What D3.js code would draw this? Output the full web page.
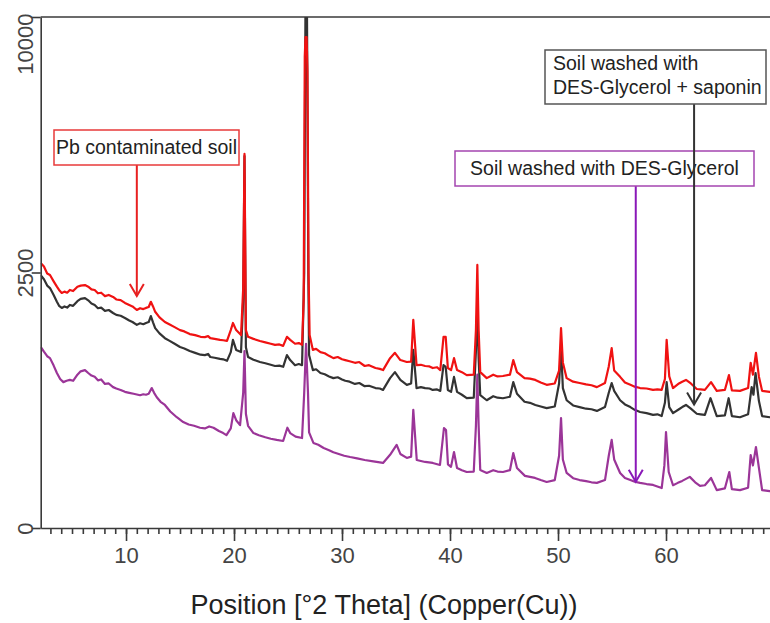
<!DOCTYPE html>
<html lang="en">
	<head>
		<meta charset="utf-8">
		<title>XRD patterns</title>
		<script type="text/javascript" src="https://d3js.org/d3.v7.min.js"></script>
		<style type="text/css">
			body { margin: 0; background: #fff; }
			text { font-family: Arial, "Liberation Sans", sans-serif; }
		</style>
	</head>
	<body>
		<script type="text/javascript">
			//Width and height
			var w = 770;
			var h = 623;

			//Tick labels
			var xTickValues = [10, 20, 30, 40, 50, 60];
			var yTickValues = [0, 2500, 10000];

			//Series: [position 2theta, counts]
			var contaminatedSoil = [
				[2.1,2690],[2.4,2620],[2.7,2480],[2.96,2450],[3.3,2330],[3.6,2230],[3.8,2170],[4.05,2115],[4.3,2140],[4.55,2120],
				[4.8,2170],[5.1,2150],[5.5,2230],[5.8,2250],[6.2,2260],[6.5,2230],[6.8,2180],[7.1,2170],[7.4,2110],[7.7,2120],
				[8.05,2060],[8.4,2080],[8.8,2045],[9.1,2000],[9.5,1990],[9.9,1940],[10.3,1905],[10.6,1880],[11.0,1820],[11.3,1850],
				[11.6,1835],[11.85,1855],[12.1,1870],[12.3,1960],[12.5,1880],[12.7,1790],[13.1,1700],[13.6,1625],[14.0,1590],[14.5,1545],
				[15.0,1500],[15.4,1480],[15.9,1440],[16.4,1425],[16.9,1400],[17.3,1395],[17.6,1410],[17.8,1380],[18.2,1370],[18.7,1355],
				[19.0,1350],[19.35,1340],[19.7,1500],[19.9,1610],[20.2,1500],[20.65,1425],[20.85,2200],[20.97,5360],[21.1,1500],[21.3,1400],
				[21.8,1370],[22.4,1340],[22.9,1320],[23.4,1300],[23.8,1285],[24.2,1290],[24.55,1270],[24.9,1400],[25.2,1355],[25.65,1300],
				[26.0,1310],[26.3,1285],[26.45,2000],[26.55,8500],[26.62,9230],[26.72,9230],[26.8,8000],[26.9,2500],[27.0,1425],[27.3,1215],
				[27.6,1230],[28.0,1185],[28.4,1170],[28.8,1135],[29.2,1105],[29.6,1120],[30.0,1090],[30.3,1080],[30.7,1065],[31.2,1045],
				[31.6,1055],[32.1,1005],[32.5,1015],[33.1,980],[33.5,970],[33.8,955],[34.45,1105],[34.9,1175],[35.4,1080],[36.0,1055],
				[36.4,1060],[36.6,1660],[36.9,1015],[37.3,1020],[37.7,1005],[38.1,1000],[38.4,980],[38.8,990],[39.1,955],[39.4,1400],
				[39.6,1400],[39.8,980],[40.1,955],[40.37,1105],[40.65,955],[41.1,930],[41.55,895],[42.2,900],[42.4,1500],[42.53,2650],
				[42.65,1500],[42.8,930],[43.4,860],[44.0,900],[44.4,880],[44.9,885],[45.55,900],[45.86,1080],[46.2,930],[46.9,860],
				[47.4,855],[47.9,840],[48.4,810],[48.95,785],[49.7,800],[50.1,950],[50.28,1530],[50.45,1050],[50.8,860],[51.4,820],
				[52.0,805],[52.6,790],[53.1,780],[53.6,760],[54.35,805],[54.7,1000],[54.97,1240],[55.2,950],[55.75,875],[56.2,810],
				[56.7,785],[57.1,765],[57.6,750],[58.2,745],[58.8,730],[59.2,735],[59.6,730],[59.9,850],[60.06,1355],[60.3,880],
				[60.65,750],[61.2,800],[61.5,820],[61.85,840],[62.3,800],[62.85,740],[63.2,735],[63.6,730],[64.17,815],[64.7,720],
				[65.45,730],[65.83,895],[66.1,725],[66.85,720],[67.6,750],[67.84,1045],[68.05,900],[68.33,1175],[68.6,880],[68.9,720],
				[69.6,710],[70,705]
			];
			var washedSaponin = [
				[2.1,2450],[2.4,2370],[2.7,2250],[2.96,2205],[3.3,2080],[3.6,1960],[3.8,1890],[4.05,1855],[4.3,1880],[4.55,1860],
				[4.8,1905],[5.1,1890],[5.5,1970],[5.8,2010],[6.2,2025],[6.5,1985],[6.8,1930],[7.1,1905],[7.4,1850],[7.7,1860],
				[8.05,1805],[8.4,1820],[8.8,1770],[9.1,1740],[9.5,1725],[9.9,1690],[10.3,1650],[10.6,1625],[11.0,1580],[11.3,1605],
				[11.6,1590],[11.85,1610],[12.1,1625],[12.3,1720],[12.5,1620],[12.7,1530],[13.1,1450],[13.6,1380],[14.0,1345],[14.5,1300],
				[15.0,1255],[15.4,1235],[15.9,1200],[16.4,1175],[16.9,1150],[17.3,1145],[17.6,1160],[17.8,1120],[18.2,1110],[18.7,1095],
				[19.0,1090],[19.35,1070],[19.7,1185],[19.9,1355],[20.2,1215],[20.65,1185],[20.85,2000],[20.97,5300],[21.1,1250],[21.3,1120],
				[21.8,1085],[22.4,1055],[22.9,1040],[23.4,1020],[23.8,1005],[24.2,1010],[24.55,995],[24.9,1145],[25.2,1080],[25.65,1015],
				[26.0,1030],[26.3,1015],[26.5,2500],[26.62,10800],[26.75,10800],[26.88,2500],[26.95,1145],[27.3,955],[27.6,965],[28.0,920],
				[28.4,905],[28.8,880],[29.2,860],[29.6,870],[30.0,845],[30.3,830],[30.7,820],[31.2,795],[31.6,805],[32.1,770],
				[32.5,775],[33.1,750],[33.5,745],[33.8,730],[34.45,860],[34.9,930],[35.4,840],[36.0,785],[36.4,800],[36.6,1215],
				[36.9,750],[37.3,760],[37.7,750],[38.1,745],[38.4,730],[38.8,735],[39.1,720],[39.4,1015],[39.6,995],[39.8,730],
				[40.1,710],[40.37,875],[40.65,710],[41.1,680],[41.55,645],[42.2,650],[42.4,1200],[42.53,1900],[42.65,1100],[42.8,675],
				[43.4,625],[44.0,665],[44.4,650],[44.9,645],[45.55,660],[45.86,815],[46.2,690],[46.9,610],[47.4,600],[47.9,580],
				[48.4,565],[48.95,550],[49.7,565],[50.1,800],[50.28,1255],[50.45,750],[50.8,625],[51.4,575],[52.0,560],[52.6,545],
				[53.1,540],[53.6,525],[54.35,560],[54.7,700],[54.97,805],[55.2,720],[55.75,625],[56.2,585],[56.7,560],[57.1,535],
				[57.6,515],[58.2,505],[58.8,490],[59.2,495],[59.6,480],[59.9,600],[60.06,815],[60.3,560],[60.65,505],[61.2,540],
				[61.5,560],[61.85,580],[62.3,545],[62.85,500],[63.2,495],[63.6,490],[64.12,645],[64.7,480],[65.45,485],[65.8,645],
				[66.1,480],[66.85,470],[67.6,495],[67.93,760],[68.1,680],[68.29,920],[68.6,620],[68.9,480],[69.6,470],[70,468]
			];
			var washedGlycerol = [
				[2.1,1255],[2.4,1190],[2.7,1130],[2.96,1105],[3.3,1010],[3.6,920],[3.9,850],[4.2,815],[4.5,830],[4.8,840],
				[5.1,830],[5.5,900],[5.8,940],[6.2,955],[6.5,920],[6.8,890],[7.1,875],[7.4,835],[7.7,845],[8.05,795],
				[8.4,800],[8.8,760],[9.1,745],[9.5,730],[9.9,710],[10.3,700],[10.7,690],[11.3,675],[11.6,685],[11.85,680],
				[12.1,690],[12.38,750],[12.6,700],[12.85,655],[13.2,610],[13.6,580],[14.1,520],[14.7,470],[15.3,430],[15.8,410],
				[16.3,400],[16.85,385],[17.3,380],[17.7,395],[18.1,385],[18.6,360],[19.0,345],[19.3,330],[19.7,380],[19.94,505],
				[20.2,445],[20.56,405],[20.85,700],[20.97,1200],[21.1,500],[21.3,400],[21.8,345],[22.3,330],[22.9,315],[23.4,305],
				[23.95,297],[24.55,290],[24.94,385],[25.2,345],[25.7,320],[26.3,310],[26.5,700],[26.67,1300],[26.85,700],[26.95,350],
				[27.35,277],[27.8,265],[28.3,245],[28.8,232],[29.2,220],[29.7,210],[30.2,200],[30.75,193],[31.4,186],[32.1,177],
				[32.9,170],[33.8,162],[34.45,205],[35.06,265],[35.4,210],[36.0,188],[36.4,195],[36.6,535],[36.92,177],[37.3,172],
				[37.7,167],[38.4,162],[39.07,152],[39.44,383],[39.63,368],[39.81,155],[40.09,143],[40.37,221],[40.65,138],[41.1,128],
				[41.55,120],[42.2,122],[42.4,400],[42.53,900],[42.65,400],[42.8,129],[43.4,116],[44.0,128],[44.4,122],[44.9,120],
				[45.55,128],[45.86,215],[46.2,138],[46.94,104],[47.4,100],[47.87,96],[48.4,88],[48.95,81],[49.7,88],[50.1,200],
				[50.28,463],[50.45,180],[50.8,116],[51.4,95],[52.0,88],[52.6,84],[53.1,80],[53.6,78],[54.35,88],[54.7,200],
				[54.97,297],[55.2,180],[55.75,116],[56.2,96],[56.7,88],[57.1,82],[57.6,78],[58.2,74],[58.8,71],[59.2,66],
				[59.6,61],[59.85,150],[60.0,353],[60.25,120],[60.65,70],[61.1,78],[61.5,85],[62.2,100],[62.7,80],[63.15,68],
				[63.6,70],[64.17,96],[64.7,55],[65.45,60],[65.86,120],[66.1,58],[66.85,55],[67.6,62],[67.84,204],[68.05,150],
				[68.33,251],[68.6,140],[68.9,55],[69.6,52],[70,50]
			];

			//Annotations: label lines, arrow tip [2theta, counts]
			var annotations = [
				{ lines: ["Pb contaminated soil"], tip: [11.0, 2060], box: [54, 130, 185, 35], color: "#e82020", border: "#e83a3a", align: "middle" },
				{ lines: ["Soil washed with DES-Glycerol"], tip: [57.2, 82], box: [455, 151, 299, 35], color: "#8a18b8", border: "#a445b0", align: "middle" },
				{ lines: ["Soil washed with", "DES-Glycerol + saponin"], tip: [62.6, 585], box: [545, 50, 221, 54], color: "#333333", border: "#555555", align: "start" }
			];

			//create scale functions
			var xScale = d3.scaleLinear()
							.domain([2.1, 70])
							.range([40.7, 774]);
			var yScale = d3.scaleSqrt()
							.domain([0, 10000])
							.range([528, 17]);

			//Create SVG element
			var svg = d3.select("body")
						.append("svg")
						.attr("width", w)
						.attr("height", h);

			svg.append("clipPath")
				.attr("id", "chart-area")
				.append("rect")
				.attr("x", 40.7)
				.attr("y", 17)
				.attr("width", 774 - 40.7)
				.attr("height", 528 - 17);

			var line = d3.line()
						.x(function(d) { return xScale(d[0]); })
						.y(function(d) { return yScale(d[1]); });

			//Draw patterns
			var series = [
				{ data: washedGlycerol, color: "#9b3598" },
				{ data: washedSaponin, color: "#333333" },
				{ data: contaminatedSoil, color: "#f01212" }
			];
			svg.append("g")
				.attr("clip-path", "url(#chart-area)")
				.selectAll("path")
				.data(series)
				.enter()
				.append("path")
				.attr("d", function(d) { return line(d.data); })
				.attr("fill", "none")
				.attr("stroke", function(d) { return d.color; })
				.attr("stroke-width", 2.2)
				.attr("stroke-linejoin", "round");

			//Top frame line
			svg.append("line")
				.attr("x1", 40.7)
				.attr("x2", w)
				.attr("y1", 17)
				.attr("y2", 17)
				.attr("stroke", "#3a3a3a")
				.attr("stroke-width", 1.6);

			//Minor x ticks
			svg.append("g")
				.attr("transform", "translate(0,528)")
				.call(d3.axisBottom(xScale).tickValues(d3.range(3, 70)).tickSize(6).tickSizeOuter(0).tickFormat(""))
				.call(function(g) {
					g.selectAll("line, path").attr("stroke", "#3a3a3a").attr("stroke-width", 1.6);
				});

			//Major x ticks
			svg.append("g")
				.attr("transform", "translate(0,528)")
				.call(d3.axisBottom(xScale).tickValues(xTickValues).tickSize(13).tickSizeOuter(0).tickPadding(6))
				.call(function(g) {
					g.select(".domain").remove();
					g.selectAll("line").attr("stroke", "#3a3a3a").attr("stroke-width", 1.6);
					g.selectAll("text").attr("font-size", "22px").attr("fill", "#444");
				});

			//Y axis
			svg.append("g")
				.attr("transform", "translate(40.7,0)")
				.call(d3.axisLeft(yScale).tickValues(yTickValues).tickSize(9).tickSizeOuter(0).tickFormat(d3.format("d")))
				.call(function(g) {
					g.selectAll("line, path").attr("stroke", "#3a3a3a").attr("stroke-width", 1.6);
					g.selectAll("text")
						.attr("transform", "rotate(-90)")
						.attr("x", function(d) { return d === 10000 ? 4 : 0; })
						.attr("y", -8)
						.attr("dy", 0)
						.attr("text-anchor", function(d) { return d === 10000 ? "end" : "middle"; })
						.attr("font-size", "22px")
						.attr("fill", "#444");
				});

			//X axis title
			svg.append("text")
				.attr("x", 384)
				.attr("y", 614)
				.attr("text-anchor", "middle")
				.attr("font-size", "27px")
				.attr("fill", "#222")
				.text("Position [°2 Theta] (Copper(Cu))");

			//Annotations
			var ann = svg.append("g");
			annotations.forEach(function(a) {
				var b = a.box;
				var tx = xScale(a.tip[0]);
				var ty = yScale(a.tip[1]);
				ann.append("line")
					.attr("x1", tx).attr("x2", tx)
					.attr("y1", b[1] + b[3]).attr("y2", ty)
					.attr("stroke", a.color)
					.attr("stroke-width", 2);
				ann.append("path")
					.attr("d", "M" + (tx - 7) + "," + (ty - 12) + "L" + tx + "," + ty + "L" + (tx + 7) + "," + (ty - 12))
					.attr("fill", "none")
					.attr("stroke", a.color)
					.attr("stroke-width", 2);
				ann.append("rect")
					.attr("x", b[0]).attr("y", b[1])
					.attr("width", b[2]).attr("height", b[3])
					.attr("fill", "#fff")
					.attr("stroke", a.border)
					.attr("stroke-width", 1.5);
				a.lines.forEach(function(t, i) {
					ann.append("text")
						.attr("x", a.align === "middle" ? b[0] + b[2] / 2 : b[0] + 8)
						.attr("y", a.lines.length === 1 ? b[1] + 24 : b[1] + 20 + i * 23.5)
						.attr("text-anchor", a.align)
						.attr("font-size", "19.5px")
						.attr("fill", "#222")
						.text(t);
				});
			});
		</script>
	</body>
</html>
